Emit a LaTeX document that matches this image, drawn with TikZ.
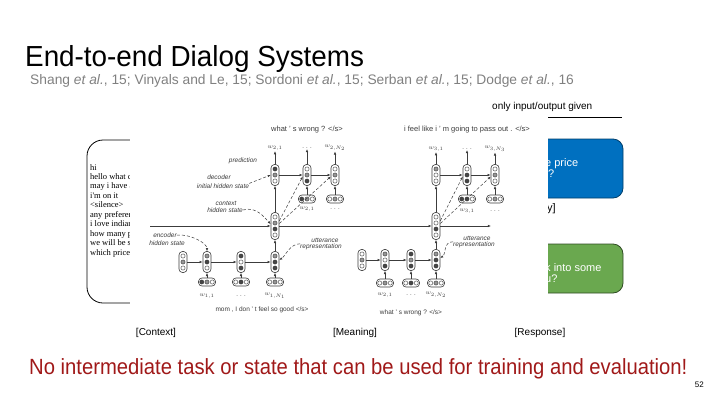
\documentclass[tikz,border=0pt]{standalone}
\usepackage{fontspec}
\setmainfont{Liberation Sans}
\newfontfamily\timesf{Liberation Serif}
\newfontfamily\titlef[FakeStretch=0.96]{Liberation Sans}
\newfontfamily\narrowf[FakeStretch=0.92]{Liberation Sans}
\usetikzlibrary{arrows.meta}
\definecolor{hcol}{RGB}{60,60,60}
\definecolor{dk}{RGB}{70,70,70}
\definecolor{md}{RGB}{150,150,150}
\definecolor{lt}{RGB}{255,255,255}
\definecolor{subgray}{RGB}{128,128,128}
\definecolor{darkred}{RGB}{160,25,25}
\definecolor{boxblue}{RGB}{0,112,192}
\definecolor{boxgreen}{RGB}{106,168,79}
\tikzset{
  vp/.style={draw=hcol, fill=white, rounded corners=3.5pt, minimum width=8, inner sep=0pt, line width=0.6pt},
  arr/.style={-{Latex[length=3.2pt,width=2.6pt]}, draw=hcol, line width=0.6pt},
  dasharr/.style={densely dashed, -{Latex[length=3pt,width=2.4pt]}, draw=hcol, line width=0.5pt},
  ann/.style={font=\itshape\fontsize{6.5}{7}\selectfont, text=hcol, inner sep=0pt},
  wl/.style={font=\fontsize{6}{7}\selectfont, text=hcol, inner sep=0.5pt},
  sent/.style={font=\fontsize{7}{8}\selectfont, text=hcol, inner sep=0pt},
  ctxtext/.style={font=\timesf\fontsize{8.5}{9.4}\selectfont, inner sep=0pt, anchor=base west},
  lab/.style={font=\fontsize{10}{12}\selectfont, inner sep=0pt, anchor=base},
  boxtxt/.style={font=\fontsize{11}{13}\selectfont, text=white, inner sep=0pt, anchor=base west},
}
\newcommand\vpill[5]{%
  \node[vp, minimum height={#4*6+3}] (#1) at (#2,#3) {};
  \foreach \fc [count=\i] in {#5}{%
    \pgfmathsetmacro\dy{((#4+1)/2-\i)*6}%
    \filldraw[draw=hcol, fill=\fc, line width=0.4pt] ([yshift=\dy pt]#1.center) circle (2.1pt);
  }%
}
\newcommand\hpill[4]{%
  \node[vp, minimum width=17, minimum height=8] (#1) at (#2,#3) {};
  \foreach \fc [count=\i] in {#4}{%
    \pgfmathsetmacro\dx{(\i-2)*5.2}%
    \filldraw[draw=hcol, fill=\fc, line width=0.4pt] ([xshift=\dx pt]#1.center) circle (2.1pt);
  }%
}
\begin{document}
\begin{tikzpicture}[x=1pt,y=-1pt]
\useasboundingbox (0,0) rectangle (720,405);
% title
\node[anchor=base west, inner sep=0pt, font=\titlef\fontsize{29}{34}\selectfont] (title) at (25,66) {End-to-end Dialog Systems};
\node[anchor=base west, inner sep=0pt, text=subgray, font=\fontsize{13.8}{16}\selectfont] (sub) at (30,84)
  {Shang \textit{et al.}, 15; Vinyals and Le, 15; Sordoni \textit{et al.}, 15; Serban \textit{et al.}, 15; Dodge \textit{et al.}, 16};
\node[anchor=base west, inner sep=0pt, font=\fontsize{10}{12}\selectfont] (only) at (492,109) {only input/output given};
\coordinate (ulA) at (548,117);
\coordinate (ulB) at (622,117);
\draw[line width=0.8pt] (ulA) -- (ulB);
% left context box
\draw[line width=0.8pt, rounded corners=16pt] (200,140) -- (87,140) -- (87,303) -- (200,303);
\foreach \t [count=\i] in {hi, hello what c, may i have a, i'm on it, <silence>, any preferen, i love indian, how many p, we will be s, which price}
  \node[ctxtext] (ctx\i) at (90,{170+(\i-1)*9.45}) {\t};
% right boxes
\draw[fill=boxblue, draw=boxblue!55!black, line width=0.8pt, rounded corners=10pt] (470,139) rectangle (623,198);
\draw[fill=boxgreen, draw=boxgreen!45!black, line width=0.8pt, rounded corners=10pt] (470,244) rectangle (623,293);
\node[boxtxt] (bt1) at (545,166) {e price};
\node[boxtxt] (bt2) at (548,177) {?};
\node[boxtxt] (gt1) at (545,271) {k into some};
\node[boxtxt] (gt2) at (545,282) {u?};
\node[anchor=base west, inner sep=0pt, font=\fontsize{11}{13}\selectfont] (qy) at (547,211) {y]};
% image area
\fill[white] (130,115) rectangle (548,322);
% ---------- HRED diagram ----------
% encoder 1
\vpill{e1-0}{183}{262}{3}{lt,md,lt}
\vpill{e1-1}{207}{262}{3}{md,dk,lt}
\vpill{e1-2}{241}{262}{3}{dk,lt,dk}
\vpill{e1-3}{275}{262}{3}{md,dk,dk}
\hpill{i1-1}{207}{282}{dk,md,lt}
\hpill{i1-2}{241}{282}{lt,dk,lt}
\hpill{i1-3}{275}{282}{lt,md,lt}
\node[wl] (l1-1) at (207,296) {$w_{1,1}$};
\node[wl] (l1-2) at (241,296) {. . .};
\node[wl] (l1-3) at (275,296) {$w_{1,N_1}$};
\node[sent, font=\fontsize{6.5}{8}\selectfont] (s1) at (262,310) {mom , I don ' t feel so good </s>};
% context
\vpill{c1}{275}{226}{4}{lt,md,dk,lt}
\vpill{c2}{436}{226}{4}{lt,lt,dk,lt}
% decoder 2
\vpill{d2-1}{275}{175}{3}{dk,md,lt}
\vpill{d2-2}{307}{175}{3}{lt,md,dk}
\vpill{d2-3}{335}{175}{3}{lt,md,lt}
\hpill{j2-2}{307}{199}{dk,md,lt}
\hpill{j2-3}{335}{199}{lt,md,lt}
\node[wl] (m2-2) at (307,209) {$w_{2,1}$};
\node[wl] (m2-3) at (335,209) {. . .};
\node[wl] (o2-1) at (275,148) {$w_{2,1}$};
\node[wl] (o2-2) at (307,148) {. . .};
\node[wl] (o2-3) at (335,148) {$w_{2,N_2}$};
\node[sent, font=\fontsize{7.5}{9}\selectfont] (t2) at (307,130) {what ' s wrong ? </s>};
% encoder 2
\vpill{e2-0}{362}{260}{3}{lt,md,lt}
\vpill{e2-1}{385}{260}{3}{md,lt,dk}
\vpill{e2-2}{411}{260}{3}{dk,md,dk}
\vpill{e2-3}{436}{260}{3}{md,dk,dk}
\hpill{i2-1}{385}{283}{lt,md,lt}
\hpill{i2-2}{411}{283}{lt,dk,lt}
\hpill{i2-3}{436}{283}{lt,md,lt}
\node[wl] (l2-1) at (385,295) {$w_{2,1}$};
\node[wl] (l2-2) at (411,295) {. . .};
\node[wl] (l2-3) at (436,295) {$w_{2,N_2}$};
\node[sent, font=\fontsize{6.5}{8}\selectfont] (s2) at (411,313) {what ' s wrong ? </s>};
% decoder 3
\vpill{d3-1}{436}{175}{3}{md,lt,lt}
\vpill{d3-2}{467}{175}{3}{lt,dk,dk}
\vpill{d3-3}{495}{175}{3}{lt,md,lt}
\hpill{j3-2}{467}{199}{dk,dk,lt}
\hpill{j3-3}{495}{199}{lt,md,lt}
\node[wl] (m3-2) at (467,211) {$w_{3,1}$};
\node[wl] (m3-3) at (495,211) {. . .};
\node[wl] (o3-1) at (436,149) {$w_{3,1}$};
\node[wl] (o3-2) at (467,149) {. . .};
\node[wl] (o3-3) at (495,149) {$w_{3,N_3}$};
\node[sent, font=\fontsize{7.5}{9}\selectfont] (t3) at (467,130) {i feel like i ' m going to pass out . </s>};
% arrows encoder
\foreach \a/\b in {e1-0/e1-1,e1-1/e1-2,e1-2/e1-3,e2-0/e2-1,e2-1/e2-2,e2-2/e2-3,d2-1/d2-2,d2-2/d2-3,d3-1/d3-2,d3-2/d3-3}
  \draw[arr] (\a.east) -- (\b.west);
\foreach \a/\b in {i1-1/e1-1,i1-2/e1-2,i1-3/e1-3,i2-1/e2-1,i2-2/e2-2,i2-3/e2-3,j2-2/d2-2,j2-3/d2-3,j3-2/d3-2,j3-3/d3-3,e1-3/c1,c1/d2-1,e2-3/c2,c2/d3-1,d2-1/o2-1,d2-2/o2-2,d2-3/o2-3,d3-1/o3-1,d3-2/o3-2,d3-3/o3-3}
  \draw[arr] (\a.north) -- (\b.south);
\coordinate (hstart) at (150,226);
\coordinate (hend) at (491,226);
\draw[arr] (hstart) -- (c1.west);
\draw[arr] (c1.east) -- (c2.west);
\draw[arr] (c2.east) -- (hend);
% dashed context -> decoder
\draw[dasharr] (c1.50) -- (d2-2.200);
\draw[dasharr] (c1.30) -- (d2-3.200);
\draw[dasharr] (c2.50) -- (d3-2.200);
\draw[dasharr] (c2.30) -- (d3-3.200);
% annotations
\node[ann] (pred) at (243,161) {prediction};
\node[ann] (decA) at (219,177) {decoder};
\node[ann] (decB) at (223,186) {initial hidden state};
\node[ann] (ctxA) at (226,203) {context};
\node[ann] (ctxB) at (225,210) {hidden state};
\node[ann] (encA) at (165,235) {encoder};
\node[ann] (encB) at (167,243) {hidden state};
\node[ann] (utA) at (325,240) {utterance};
\node[ann] (utB) at (321,247) {representation};
\node[ann] (uuA) at (477,238) {utterance};
\node[ann] (uuB) at (474,245) {representation};
\draw[dasharr] (decB.north east) -- (d2-1.west);
\draw[dasharr] (ctxB.east) .. controls +(14,-4) and +(-6,-6) .. (c1.155);
\draw[dasharr] (encA.east) .. controls +(14,-1) and +(0,-8) .. (e1-1.north);
\draw[dasharr] (utB.north west) .. controls +(-10,0) and +(6,-4) .. (e1-3.25);
\draw[dasharr] (uuB.north west) .. controls +(-10,0) and +(6,-4) .. (e2-3.25);
% bottom labels
\node[lab] (lc) at (156,335) {[Context]};
\node[lab] (lm) at (355,335) {[Meaning]};
\node[lab] (lr) at (540,335) {[Response]};
\node[anchor=base west, inner sep=0pt, text=darkred, font=\narrowf\fontsize{22}{26}\selectfont] (concl) at (29,374)
  {No intermediate task or state that can be used for training and evaluation!};
\node[anchor=base east, inner sep=0pt, font=\fontsize{8}{10}\selectfont] (pg) at (704,387) {52};
\end{tikzpicture}
\end{document}
